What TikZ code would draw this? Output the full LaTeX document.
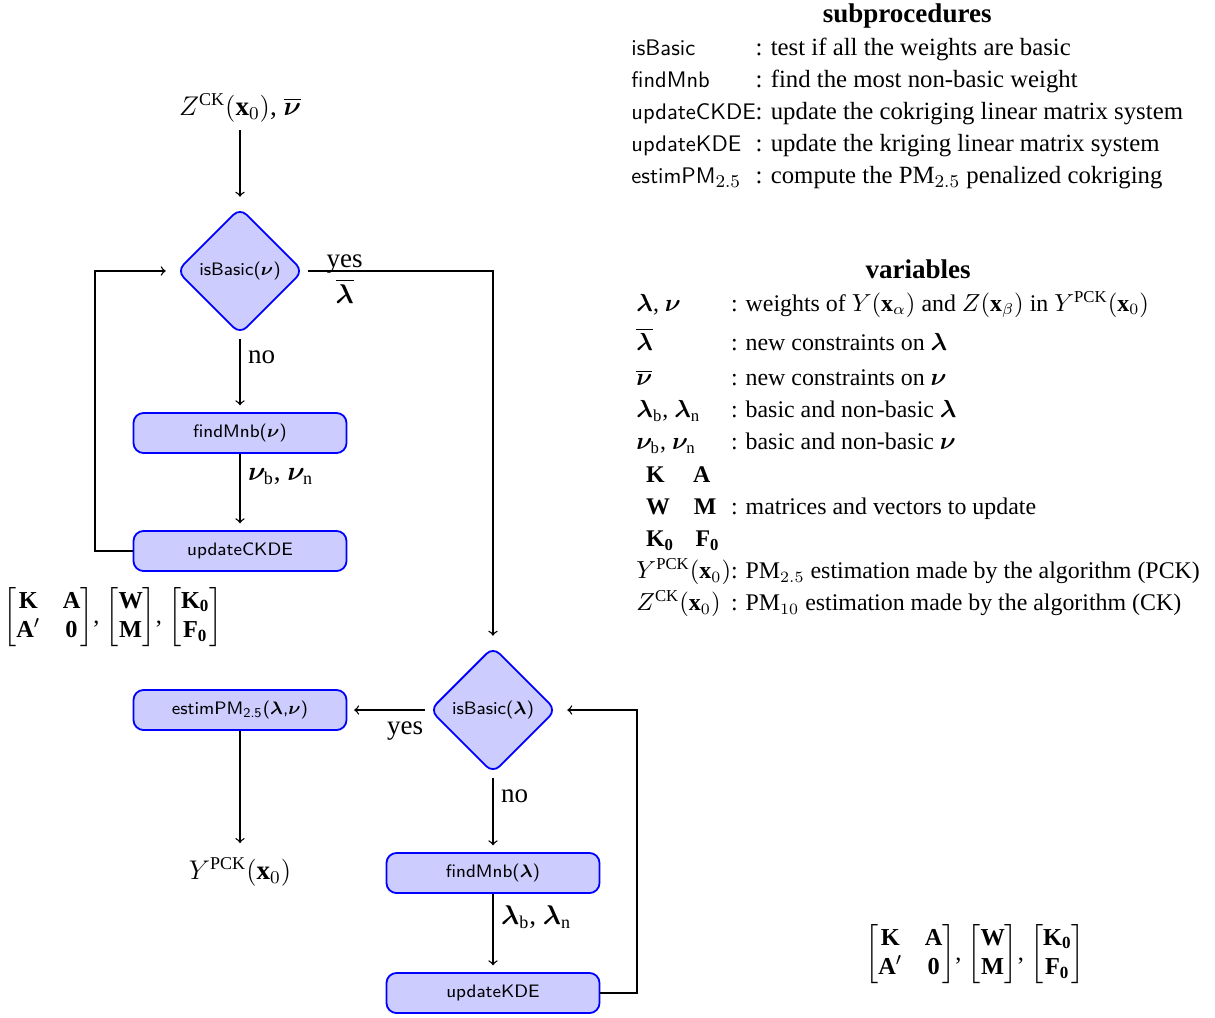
\documentclass[tikz,border=0pt]{standalone}
\usepackage{amsmath,bm}
\usepackage{fontspec}
\setmainfont{Liberation Serif}
\usepackage{tikz}
\usetikzlibrary{shapes,arrows,positioning,calc}
\newcommand{\procname}[1]{{\fontsize{10}{12}\sffamily #1}}
\newcommand{\matlabel}{$\begin{bmatrix}\mathbf{K} & \mathbf{A}\\ \mathbf{A}' & \mathbf{0}\end{bmatrix}$, $\begin{bmatrix}\mathbf{W}\\ \mathbf{M}\end{bmatrix}$, $\begin{bmatrix}\mathbf{K_0}\\ \mathbf{F_0}\end{bmatrix}$}

\begin{document}
\begin{tikzpicture}[x=0.444pt,y=-0.444pt,
  decision/.style={diamond, draw=blue, thick, fill=blue!20, rounded corners=4pt, minimum size=57pt, inner sep=0pt, outer sep=1.5pt, font=\sffamily\footnotesize},
  block/.style={rectangle, draw=blue, thick, fill=blue!20, rounded corners=4.5pt, minimum width=94.6pt, minimum height=17.8pt, font=\sffamily\footnotesize},
  flow/.style={->, semithick, shorten >=3pt},
  lab/.style={font=\large},
  matrices/.style={font=\fontsize{10.8}{13}\selectfont},
  legend/.style={anchor=north west, inner sep=0pt}]
\useasboundingbox (0,0) rectangle (1215,1017);

\node[lab] (zin) at (240,108) {$Z^{\mathrm{CK}}(\mathbf{x}_0)$, $\overline{\bm{\nu}}$};
\node[decision] (testnu) at (240,271) {isBasic($\bm{\nu}$)};
\node[block] (findnu) at (240,433) {findMnb($\bm{\nu}$)};
\node[block] (updck) at (240,551) {updateCKDE};
\node[matrices] (matl) at (113,617) {\matlabel};
\node[decision] (testlam) at (493,710) {isBasic($\bm{\lambda}$)};
\node[block] (estim) at (240,710) {estimPM$_{\text{\sffamily 2.5}}$($\bm{\lambda}$,$\bm{\nu}$)};
\node[lab] (yout) at (240,872) {$Y^{\mathrm{PCK}}(\mathbf{x}_0)$};
\node[block] (findlam) at (493,873) {findMnb($\bm{\lambda}$)};
\node[block] (updk) at (493,993) {updateKDE};
\node[matrices] (matr) at (975,954) {\matlabel};
\coordinate (loopnu) at (95,551);
\coordinate (looplam) at (637,993);

\draw[flow] (zin) -- (testnu);
\draw[flow] (testnu) -| node[lab, pos=0.1, above=-4.5pt] {yes} node[lab, pos=0.1, below=0pt] {$\overline{\bm{\lambda}}$} (testlam);
\draw[flow] (testnu) -- node[lab, pos=0.25, right] {no} (findnu);
\draw[flow] (findnu) -- node[lab, pos=0.3, right] {$\bm{\nu}_{\mathrm{b}}$, $\bm{\nu}_{\mathrm{n}}$} (updck);
\draw[flow] (updck) -- (loopnu) |- (testnu);
\draw[flow] (testlam) -- node[lab, pos=0.26, below=1.5pt] {yes} (estim);
\draw[flow] (estim) -- (yout);
\draw[flow] (testlam) -- node[lab, pos=0.25, right] {no} (findlam);
\draw[flow] (findlam) -- node[lab, pos=0.3, right] {$\bm{\lambda}_{\mathrm{b}}$, $\bm{\lambda}_{\mathrm{n}}$} (updk);
\draw[flow] (updk) -- (looplam) |- (testlam);

\node[legend, font=\fontsize{11}{13.6}\selectfont] (subproc) at (631,0) {\renewcommand{\arraystretch}{1.05}%
\begin{tabular}{@{}l@{}l@{}}
\multicolumn{2}{c}{\large\textbf{subprocedures}}\\
\procname{isBasic} & : test if all the weights are basic\\
\procname{findMnb} & : find the most non-basic weight\\
\procname{updateCKDE} & : update the cokriging linear matrix system\\
\procname{updateKDE} & : update the kriging linear matrix system\\
\procname{estimPM}$_{2.5}$ & : compute the PM$_{2.5}$ penalized cokriging
\end{tabular}};
\node[legend, font=\fontsize{10.6}{13.6}\selectfont] (vars) at (636,256) {\renewcommand{\arraystretch}{1.05}%
\begin{tabular}{@{}l@{}l@{}}
\multicolumn{2}{c}{\large\textbf{variables}}\\
$\bm{\lambda}$, $\bm{\nu}$ & : weights of $Y(\mathbf{x}_\alpha)$ and $Z(\mathbf{x}_\beta)$ in $Y^{\mathrm{PCK}}(\mathbf{x}_0)$\\[3pt]
$\overline{\bm{\lambda}}$ & : new constraints on $\bm{\lambda}$\\[1.5pt]
$\overline{\bm{\nu}}$ & : new constraints on $\bm{\nu}$\\
$\bm{\lambda}_{\mathrm{b}}$, $\bm{\lambda}_{\mathrm{n}}$ & : basic and non-basic $\bm{\lambda}$\\
$\bm{\nu}_{\mathrm{b}}$, $\bm{\nu}_{\mathrm{n}}$ & : basic and non-basic $\bm{\nu}$\\
\hspace{0.4em}$\mathbf{K}$\hspace{1.2em}$\mathbf{A}$ & \\
\hspace{0.4em}$\mathbf{W}$\hspace{1em}$\mathbf{M}$ & : matrices and vectors to update\\
\hspace{0.4em}$\mathbf{K_0}$\hspace{0.9em}$\mathbf{F_0}$ & \\
$Y^{\mathrm{PCK}}(\mathbf{x}_0)$ & : PM$_{2.5}$ estimation made by the algorithm (PCK)\\
$Z^{\mathrm{CK}}(\mathbf{x}_0)$ & : PM$_{10}$ estimation made by the algorithm (CK)
\end{tabular}};
\end{tikzpicture}
\end{document}
